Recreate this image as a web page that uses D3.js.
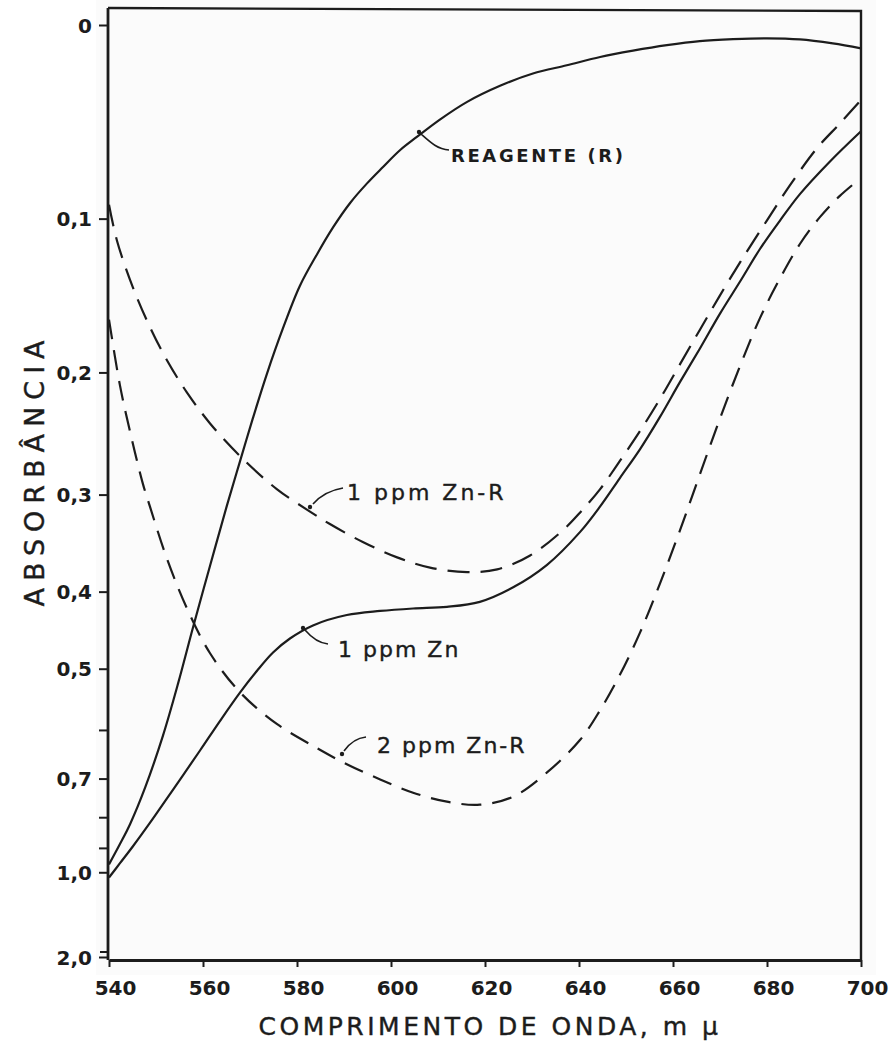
<!DOCTYPE html>
<html>
<head>
<meta charset="utf-8">
<script src="https://cdn.jsdelivr.net/npm/d3@7"></script>
<style>
  html, body { margin: 0; padding: 0; background: #ffffff; }
  svg { display: block; }
</style>
</head>
<body>
<script>
// ---- Data (wavelength in mµ, absorbance) ----
const reagenteWl = [540, 542.3, 544.5, 547.7, 551.5, 554.7, 557.9, 561.5, 565.1, 567.9, 570.6, 573.6, 577, 580.6, 584.3, 587.7, 591.3, 594.9, 598.3, 601.9, 605.5, 610.4, 616.2, 623.2, 630.2, 637.4, 644.5, 651.5, 658.7, 665.7, 672.8, 680, 687, 694, 700];
const reagenteAbs = [0.965, 0.887, 0.82, 0.721, 0.61, 0.522, 0.443, 0.371, 0.31, 0.27, 0.235, 0.201, 0.169, 0.141, 0.121, 0.105, 0.091, 0.08, 0.071, 0.062, 0.055, 0.046, 0.037, 0.029, 0.023, 0.019, 0.015, 0.012, 0.0094, 0.0075, 0.0066, 0.0062, 0.0067, 0.0086, 0.0109];

const zn1Wl = [540, 542.3, 545.1, 548.7, 552.3, 555.7, 559.4, 563.6, 567.9, 571.5, 574.9, 578.5, 583.4, 590.6, 597.7, 604.7, 611.9, 618.9, 626, 633.2, 640.2, 644.5, 648.7, 653, 657.2, 661.5, 665.7, 670, 674.3, 678.5, 682.8, 687, 693.4, 700];
const zn1Abs = [1.025, 0.961, 0.894, 0.817, 0.749, 0.693, 0.639, 0.584, 0.536, 0.503, 0.477, 0.458, 0.441, 0.428, 0.423, 0.42, 0.418, 0.412, 0.395, 0.37, 0.336, 0.311, 0.285, 0.26, 0.234, 0.207, 0.183, 0.159, 0.138, 0.118, 0.101, 0.086, 0.068, 0.052];

const zn1rWl = [540, 541.7, 545.1, 548.7, 552.3, 556.6, 561.5, 567.9, 575.7, 582.1, 587, 594, 601.3, 608.3, 616.2, 622.6, 629.6, 636.6, 640.2, 644.5, 648.7, 653, 657.2, 661.5, 665.7, 670, 674.3, 680, 684.9, 690.6, 695.5, 700];
const zn1rAbs = [0.092, 0.113, 0.142, 0.168, 0.191, 0.215, 0.239, 0.266, 0.295, 0.314, 0.328, 0.346, 0.362, 0.373, 0.378, 0.375, 0.36, 0.334, 0.317, 0.295, 0.27, 0.245, 0.22, 0.194, 0.17, 0.147, 0.126, 0.101, 0.081, 0.061, 0.048, 0.036];

const zn2rWl = [540, 542.3, 544.5, 547.2, 548.7, 552.3, 556.6, 561.5, 567.9, 575.7, 584.3, 590.6, 597.7, 604.7, 611.9, 618.9, 626, 633.2, 640.2, 644.5, 648.7, 653, 657.2, 661.5, 665.7, 670, 674.3, 678.5, 682.8, 687, 691.3, 695.5, 700];
const zn2rAbs = [0.163, 0.209, 0.246, 0.29, 0.311, 0.363, 0.42, 0.478, 0.536, 0.589, 0.635, 0.668, 0.702, 0.734, 0.757, 0.765, 0.744, 0.686, 0.619, 0.565, 0.509, 0.45, 0.391, 0.334, 0.282, 0.235, 0.195, 0.162, 0.136, 0.115, 0.099, 0.087, 0.077];

const xTicks = [540, 560, 580, 600, 620, 640, 660, 680, 700];
const yTicks = [0, 0.1, 0.2, 0.3, 0.4, 0.5, 0.6, 0.7, 0.8, 0.9, 1.0, 2.0];
const yTickLabels = ["0", "0,1", "0,2", "0,3", "0,4", "0,5", "", "0,7", "", "", "1,0", "2,0"];

const seriesNames = ["REAGENTE (R)", "1 ppm Zn-R", "1 ppm Zn", "2 ppm Zn-R"];
const xTitle = "COMPRIMENTO DE ONDA, m µ";
const yTitle = "ABSORBÂNCIA";

// ---- Layout ----
const W = 894, H = 1055;
const svg = d3.select("body").append("svg").attr("width", W).attr("height", H);

const x = d3.scaleLinear().domain([540, 700]).range([109, 861]);
// absorbance axis is linear in transmittance T = 10^-A
const yT = d3.scaleLinear().domain([1, 0.01]).range([25, 957]);
const y = a => yT(Math.pow(10, -a));

const ink = "#1c1c1c";
const font = "'DejaVu Sans', sans-serif";

// paper tint of plot area
svg.append("rect").attr("x", 96).attr("y", 0).attr("width", 780).attr("height", 975).attr("fill", "#fbfbfb");

// frame: top & right borders
svg.append("path")
  .attr("d", `M${x(540) - 1},8 L${x(700)},11 L${x(700)},${yT(0.01) + 3}`)
  .attr("fill", "none").attr("stroke", ink).attr("stroke-width", 2.4);

// x axis
const xAxis = svg.append("g").attr("transform", `translate(0,${yT(0.01) + 3})`)
  .call(d3.axisBottom(x).tickValues(xTicks).tickSize(7).tickPadding(14).tickSizeOuter(0).tickFormat(d3.format("d")));
xAxis.select(".domain").attr("stroke", ink).attr("stroke-width", 2.8);
xAxis.selectAll(".tick line").attr("stroke", ink).attr("stroke-width", 2);
xAxis.selectAll(".tick text").attr("fill", ink).style("font-family", font).style("font-size", "20px").style("font-weight", "bold").attr("dx", 6);

// y axis
const yAxis = svg.append("g").attr("transform", `translate(${x(540) - 1},0)`)
  .call(d3.axisLeft(yT).tickValues(yTicks.map(a => Math.pow(10, -a))).tickSize(9).tickPadding(7).tickSizeOuter(0)
    .tickFormat((d, i) => yTickLabels[i]));
yAxis.select(".domain").attr("stroke", ink).attr("stroke-width", 2.8).attr("d", `M0,8V${yT(0.01) + 3}`);
yAxis.selectAll(".tick line").attr("stroke", ink).attr("stroke-width", 2);
yAxis.selectAll(".tick text").attr("fill", ink).style("font-family", font).style("font-size", "20px").style("font-weight", "bold").attr("dy", "0.35em");
// second short stroke at 2,0 as in the drawing
svg.append("line").attr("x1", x(540) - 9).attr("x2", x(540)).attr("y1", yT(0.01) - 5).attr("y2", yT(0.01) - 5).attr("stroke", ink).attr("stroke-width", 2);

// curves
const line = d3.line().x(d => x(d[0])).y(d => y(d[1])).curve(d3.curveCatmullRom.alpha(0.5));
const series = [
  { wl: reagenteWl, a: reagenteAbs, dash: null },
  { wl: zn1rWl, a: zn1rAbs, dash: "22,11" },
  { wl: zn1Wl, a: zn1Abs, dash: null },
  { wl: zn2rWl, a: zn2rAbs, dash: "20,11" }
];
svg.append("g").selectAll("path").data(series).join("path")
  .attr("d", s => line(s.wl.map((w, i) => [w, s.a[i]])))
  .attr("fill", "none").attr("stroke", ink).attr("stroke-width", 2.2)
  .attr("stroke-dasharray", s => s.dash);

// annotations
const ann = [
  { text: seriesNames[0], tx: 451, ty: 162, size: 18, weight: "bold", ls: 2.6, lead: "M449,150 C437,149 430,142 421,134", tip: [419, 132] },
  { text: seriesNames[1], tx: 347, ty: 500, size: 22, weight: "normal", ls: 3, lead: "M343,488 C331,490 320,496 313,504", tip: [310, 507] },
  { text: seriesNames[2], tx: 338, ty: 657, size: 22, weight: "normal", ls: 2, lead: "M328,644 C318,643 311,637 305,630", tip: [303, 628] },
  { text: seriesNames[3], tx: 377, ty: 753, size: 22, weight: "normal", ls: 2, lead: "M366,737 C356,738 349,744 344,751", tip: [342, 754] }
];
const ag = svg.append("g");
ag.selectAll("text").data(ann).join("text")
  .attr("x", d => d.tx).attr("y", d => d.ty)
  .text(d => d.text)
  .attr("fill", ink).attr("stroke", ink).attr("stroke-width", d => d.weight === "bold" ? 0 : 0.4)
  .style("font-family", font).style("font-size", d => d.size + "px")
  .style("font-weight", d => d.weight).style("letter-spacing", d => d.ls + "px");
ag.selectAll("path.lead").data(ann).join("path").attr("class", "lead")
  .attr("d", d => d.lead).attr("fill", "none").attr("stroke", ink).attr("stroke-width", 1.6);
ag.selectAll("circle").data(ann).join("circle")
  .attr("cx", d => d.tip[0]).attr("cy", d => d.tip[1]).attr("r", 2.2).attr("fill", ink);

// axis titles
svg.append("text").attr("transform", "translate(44,470) rotate(-90)")
  .attr("text-anchor", "middle").text(yTitle)
  .attr("fill", ink).attr("stroke", ink).attr("stroke-width", 0.4)
  .style("font-family", font).style("font-size", "27px").style("letter-spacing", "7px");
svg.append("text").attr("x", 490).attr("y", 1035).attr("text-anchor", "middle").text(xTitle)
  .attr("fill", ink).attr("stroke", ink).attr("stroke-width", 0.4)
  .style("font-family", font).style("font-size", "25px").style("letter-spacing", "3.5px");
</script>
</body>
</html>
